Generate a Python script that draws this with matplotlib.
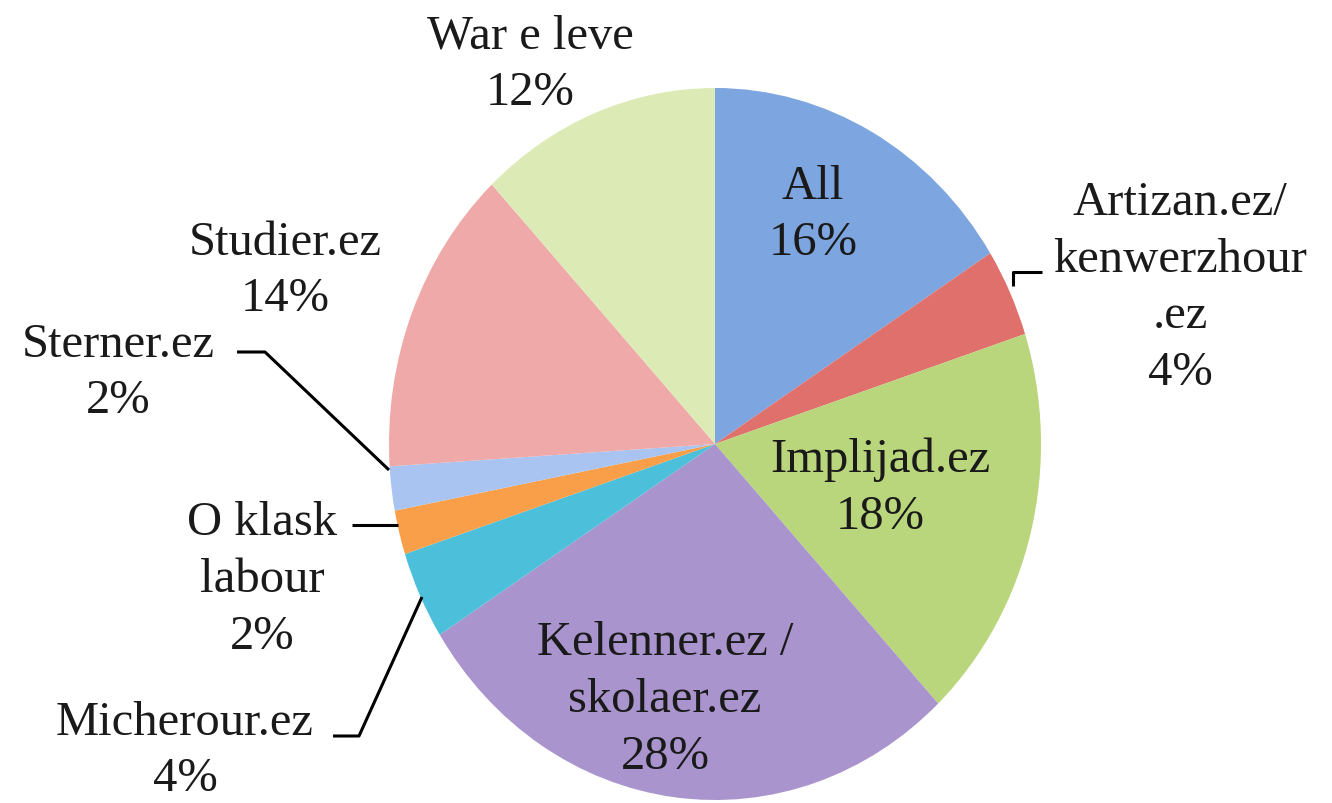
import matplotlib
matplotlib.use("Agg")
import matplotlib.pyplot as plt

categories = ["All", "Artizan.ez/\nkenwerzhour\n.ez", "Implijad.ez", "Kelenner.ez /\nskolaer.ez",
              "Micherour.ez", "O klask\nlabour", "Sterner.ez", "Studier.ez", "War e leve"]
values = [16, 4, 18, 28, 4, 2, 2, 14, 12]
colors = ["#7da5df", "#e0706c", "#b9d67c", "#a994cd", "#4cbfda", "#f99f4a", "#a9c4f0", "#efa9a8", "#dcebb6"]

W, H = 1332, 804
CX, CY = 715, 445
RX, RY = 326, 356

fig = plt.figure(figsize=(W / 100, H / 100), dpi=100)
ax = fig.add_axes([0, 0, 1, 1])
ax.pie(values, colors=colors, startangle=90, counterclock=False,
       wedgeprops=dict(linewidth=0))
ax.set_aspect("auto")
ax.set_xlim(-CX / RX, (W - CX) / RX)
ax.set_ylim(-(H - CY) / RY, CY / RY)
ax.axis("off")


def d(px, py):
    return ((px - CX) / RX, (CY - py) / RY)


font = dict(family=["Liberation Serif", "DejaVu Serif"], fontsize=35, color="#1a1a1a",
            ha="center", va="center", linespacing=1.38)

label_pos = [(813, 215), (1180, 288), (880, 488), (665, 700), (185, 751),
             (262, 580), (118, 373), (285, 271), (530, 65)]
for cat, val, (px, py) in zip(categories, values, label_pos):
    ax.text(*d(px, py), f"{cat}\n{val}%", **font)

leaders = [
    [(1013, 287), (1013, 273), (1042, 273)],
    [(237, 353), (265, 353), (389, 471)],
    [(352, 526), (398, 526)],
    [(333, 737), (359, 737), (422, 598)],
]
for pts in leaders:
    xs, ys = zip(*[d(*p) for p in pts])
    ax.plot(xs, ys, color="black", lw=2.2, solid_capstyle="butt")

fig.savefig("out.png", dpi=100)
